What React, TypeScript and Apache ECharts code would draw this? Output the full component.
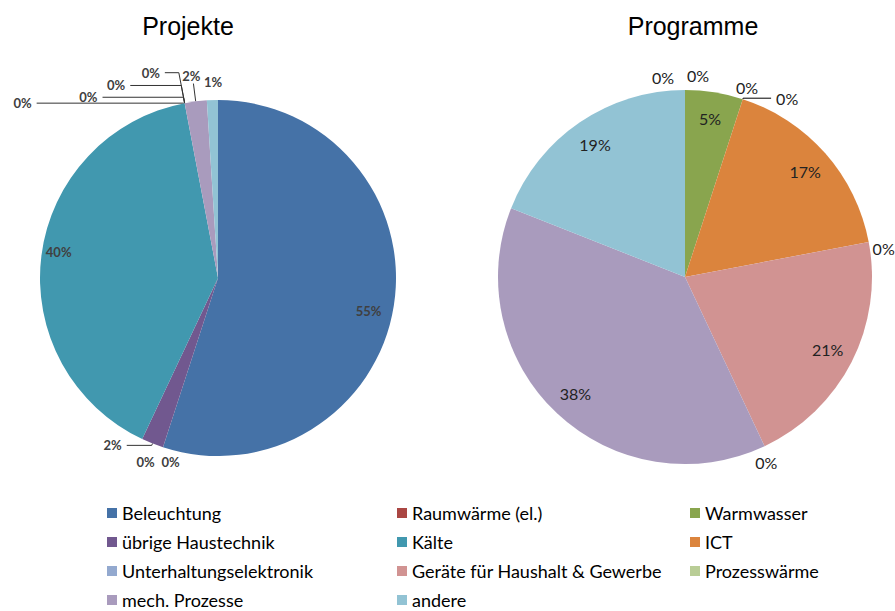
import React, { useEffect, useRef } from 'react';
import * as echarts from 'echarts';

const categories = [
  'Beleuchtung',
  'Raumwärme (el.)',
  'Warmwasser',
  'übrige Haustechnik',
  'Kälte',
  'ICT',
  'Unterhaltungselektronik',
  'Geräte für Haushalt & Gewerbe',
  'Prozesswärme',
  'mech. Prozesse',
  'andere',
];
const projekteValues = [55, 0, 0, 2, 40, 0, 0, 0, 0, 2, 1];
const programmeValues = [0, 0, 5, 0, 0, 17, 0, 21, 0, 38, 19];
const chartTitles = ['Projekte', 'Programme'];

const colors = ['#4572A7', '#AA4643', '#89A54E', '#71588F', '#4198AF', '#DB843D', '#93A9CF', '#D19392', '#B9CD96', '#A99BBD', '#92C3D4'];
const legendColumns = [[0, 3, 6, 9], [1, 4, 7, 10], [2, 5, 8]];
const legendLefts = [107, 397, 690];
const insideThreshold = 5;

// label styling per slice (leader line lengths and small nudges) – style only
type LS = { len: number; len2: number; line: boolean; dx: number; dy: number };
const L = (len: number, len2: number, line: boolean, dx = 0, dy = 0): LS => ({ len, len2, line, dx, dy });
const leftLabelStyle: LS[] = [
  L(0, 0, false, 0, 9),
  L(4, 0, false, -2, 11),
  L(4, 0, false, 23, 11),
  L(2, 25, true),
  L(0, 0, false, -8, -7),
  L(0, 148, true),
  L(6, 81, true),
  L(18, 51, true),
  L(31, 14, true),
  L(18, 0, true, 12, -8),
  L(6, 0, false, 15, -12),
];
const rightLabelStyle: LS[] = [
  L(4, 0, false, -6, -9),
  L(4, 0, false, 29, -11),
  L(0, 0, false),
  L(4, 0, false, -13, -8),
  L(1, 28, true),
  L(0, 0, false),
  L(4, 0, false, -5, 7),
  L(0, 0, false),
  L(4, 0, false, -16, 13),
  L(0, 0, false),
  L(0, 0, false),
];

const fmt = (p: any) => Math.round(p.percent) + '%';

function makeSeries(values: number[], center: number[], r: number, labelText: any, ls: LS[], lineColor: string) {
  const nudge = (p: any) => ({ dx: ls[p.dataIndex].dx, dy: ls[p.dataIndex].dy });
  return [
    {
      type: 'pie',
      center,
      radius: r,
      startAngle: 90,
      clockwise: true,
      silent: true,
      emphasis: { disabled: true },
      avoidLabelOverlap: false,
      itemStyle: { borderWidth: 0 },
      data: categories.map((c, i) => ({
        name: c,
        value: values[i],
        itemStyle: { color: colors[i] },
        label: { show: values[i] < insideThreshold },
        labelLine: {
          show: values[i] < insideThreshold && ls[i].line,
          length: ls[i].len,
          length2: ls[i].len2,
        },
      })),
      label: { position: 'outside', formatter: fmt, ...labelText },
      labelLine: { smooth: false, lineStyle: { color: lineColor, width: 1 } },
      labelLayout: nudge,
    },
    {
      type: 'pie',
      center,
      radius: [r * 0.68, r],
      startAngle: 90,
      clockwise: true,
      silent: true,
      emphasis: { disabled: true },
      avoidLabelOverlap: false,
      itemStyle: { color: 'rgba(0,0,0,0)', borderWidth: 0 },
      data: categories.map((c, i) => ({
        name: c,
        value: values[i],
        label: { show: values[i] >= insideThreshold },
      })),
      label: { position: 'inside', formatter: fmt, ...labelText },
      labelLine: { show: false },
      labelLayout: nudge,
    },
  ];
}

export default function App() {
  const ref = useRef<HTMLDivElement>(null);
  useEffect(() => {
    document.body.style.margin = '0';
    const chart = echarts.init(ref.current!, null, { renderer: 'svg' });
    const leftLabel = { fontFamily: 'Lato, sans-serif', fontSize: 13, fontWeight: 'bold', color: '#404040' };
    const rightLabel = { fontFamily: 'Lato, sans-serif', fontSize: 16, color: '#222' };
    const titleStyle = { fontFamily: 'Liberation Sans, Arial', fontSize: 25, fontWeight: 'normal', color: '#000' };
    chart.setOption({
      animation: false,
      backgroundColor: '#fff',
      title: [
        { text: chartTitles[0], left: 183, top: 8, textAlign: 'center', textStyle: titleStyle },
        { text: chartTitles[1], left: 688, top: 8, textAlign: 'center', textStyle: titleStyle },
      ],
      legend: legendColumns.map((col, k) => ({
        orient: 'vertical',
        left: legendLefts[k],
        top: 503,
        padding: 0,
        icon: 'rect',
        itemWidth: 10,
        itemHeight: 10,
        itemGap: 9,
        selectedMode: false,
        data: col.map((i) => categories[i]),
        textStyle: { fontFamily: 'Lato, sans-serif', fontSize: 18, lineHeight: 20, color: '#000' },
      })),
      series: [
        ...makeSeries(projekteValues, [218, 278], 178, leftLabel, leftLabelStyle, '#333'),
        ...makeSeries(programmeValues, [685, 277], 187, rightLabel, rightLabelStyle, '#000'),
      ],
    });
    return () => chart.dispose();
  }, []);
  return <div ref={ref} style={{ width: 895, height: 611 }} />;
}
